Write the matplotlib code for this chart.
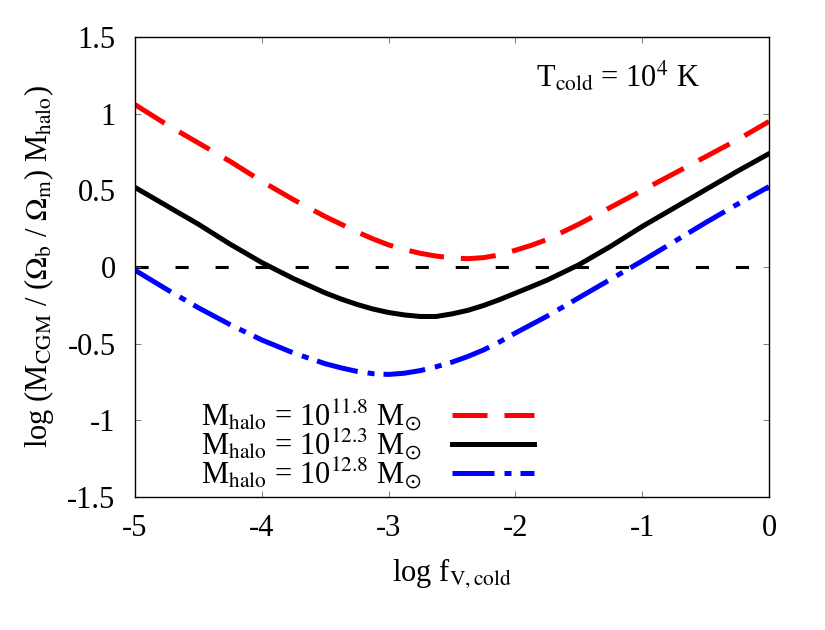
import numpy as np
import matplotlib
matplotlib.use('Agg')
import matplotlib.pyplot as plt

# 1. Data
log_fv = [-5.0, -4.75, -4.5, -4.25, -4.0, -3.75, -3.5, -3.375, -3.25, -3.125, -3.0,
          -2.875, -2.75, -2.625, -2.5, -2.375, -2.25, -2.125, -2.0, -1.875, -1.75,
          -1.5, -1.25, -1.0, -0.75, -0.5, -0.25, 0.0]

m_118 = [1.06, 0.93, 0.81, 0.69, 0.56, 0.44, 0.33, 0.28, 0.23, 0.185, 0.145,
         0.115, 0.09, 0.072, 0.06, 0.055, 0.062, 0.08, 0.11, 0.142, 0.18,
         0.28, 0.39, 0.50, 0.61, 0.72, 0.83, 0.95]
m_123 = [0.52, 0.40, 0.28, 0.15, 0.03, -0.075, -0.168, -0.208, -0.243, -0.273, -0.296,
         -0.312, -0.322, -0.322, -0.305, -0.282, -0.25, -0.212, -0.17, -0.128, -0.085,
         0.015, 0.135, 0.265, 0.385, 0.505, 0.625, 0.74]
m_128 = [-0.02, -0.145, -0.265, -0.375, -0.475, -0.56, -0.63, -0.657, -0.68, -0.695, -0.70,
         -0.692, -0.675, -0.65, -0.62, -0.583, -0.54, -0.488, -0.43, -0.375, -0.32,
         -0.20, -0.08, 0.04, 0.165, 0.29, 0.41, 0.525]

labels = [r'M$_{\mathrm{halo}}$ = 10$^{11.8}$ M$_{\odot}$',
          r'M$_{\mathrm{halo}}$ = 10$^{12.3}$ M$_{\odot}$',
          r'M$_{\mathrm{halo}}$ = 10$^{12.8}$ M$_{\odot}$']

# 2. Style
plt.rcParams['font.family'] = ['Liberation Serif', 'DejaVu Serif']
plt.rcParams['mathtext.fontset'] = 'stix'
plt.rcParams['font.size'] = 22

fig = plt.figure(figsize=(8.25, 6.3), dpi=100)
ax = fig.add_axes([0.1636, 0.211, 0.7685, 0.730])

# 3. Curves
lw = 3.6
l1, = ax.plot(log_fv, m_118, color='red', lw=lw, dashes=(7, 3.4), dash_capstyle='butt')
l2, = ax.plot(log_fv, m_123, color='black', lw=lw)
l3, = ax.plot(log_fv, m_128, color='blue', lw=lw, dashes=(8.4, 2.0, 1.4, 1.8), dash_capstyle='butt')
ax.axhline(0, color='black', lw=2.2, dashes=(4.3, 8.8), dash_capstyle='butt', zorder=1)

# 4. Axes
ax.set_xlim(-5, 0)
ax.set_ylim(-1.5, 1.5)
ax.set_xticks([-5, -4, -3, -2, -1, 0])
ax.set_xticklabels(['-5', '-4', '-3', '-2', '-1', '0'])
ax.set_yticks([-1.5, -1, -0.5, 0, 0.5, 1, 1.5])
ax.set_yticklabels(['-1.5', '-1', '-0.5', '0', '0.5', '1', '1.5'])
ax.tick_params(direction='in', length=4.5, width=0.6, color='0.4',
               top=True, right=True, labelsize=22)
ax.tick_params(axis='x', pad=12)
ax.tick_params(axis='y', pad=14)
for s in ax.spines.values():
    s.set_linewidth(1.0)

ax.set_xlabel(r'log f$_{\mathrm{V,cold}}$', fontsize=22, labelpad=10)
ax.set_ylabel(r'log (M$_{\mathrm{CGM}}$ / ($\Omega_{\mathrm{b}}$ / $\Omega_{\mathrm{m}}$) M$_{\mathrm{halo}}$)',
              fontsize=22, labelpad=8)

ax.text(0.891, 0.915, r'T$_{\mathrm{cold}}$ = 10$^{4}$ K', transform=ax.transAxes,
        ha='right', va='center', fontsize=22)

# 5. Legend
ax.legend([l1, l2, l3], labels, loc='lower left', bbox_to_anchor=(0.075, -0.027),
          frameon=False, markerfirst=False, handlelength=2.7, handletextpad=1.0,
          labelspacing=-0.2, borderpad=0.1, fontsize=22)

plt.savefig('out.png', dpi=100)
